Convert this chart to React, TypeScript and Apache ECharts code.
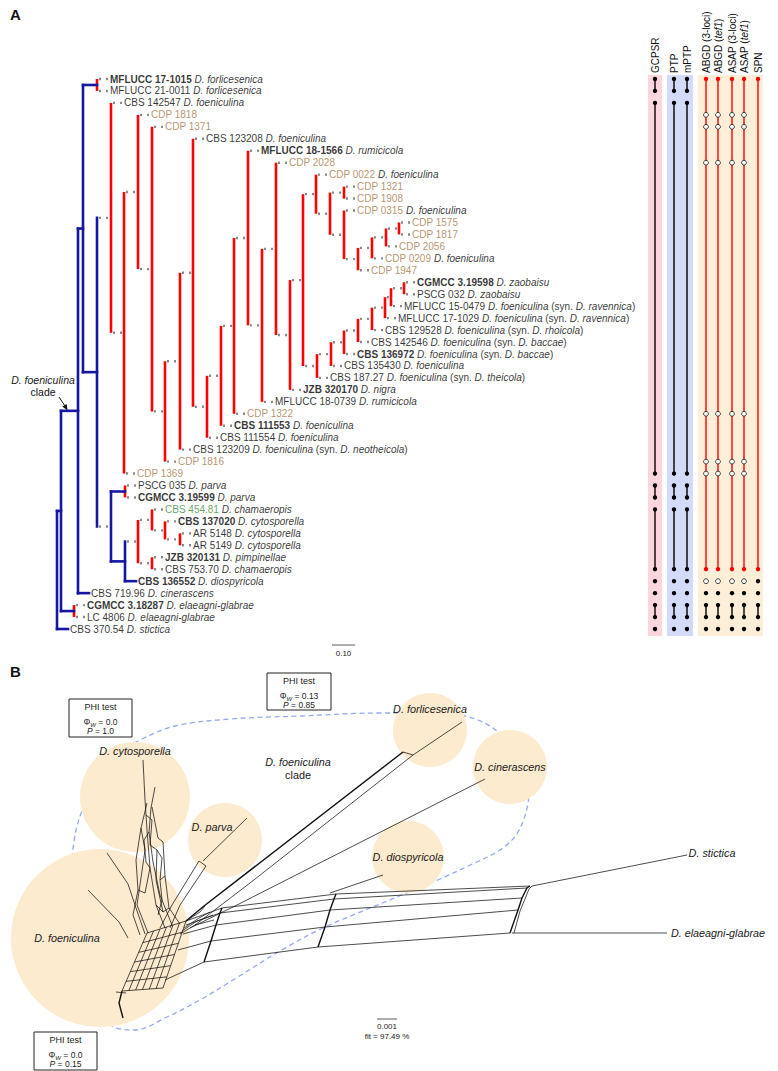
import React, { useEffect, useRef } from 'react';
import * as echarts from 'echarts';

const FONT = '"Liberation Sans", Arial, Helvetica, sans-serif';
const BLUE = '#1616a2';
const RED = '#ff0000';
const BROWN = '#a3784a';
const GREEN = '#3b8e3b';
const DOTGRAY = '#8a8a8a';
const PEACH = '#fdebcf';

// ---------- Panel A data ----------
const tipStrains = [
  'MFLUCC 17-1015', 'MFLUCC 21-0011', 'CBS 142547', 'CDP 1818', 'CDP 1371', 'CBS 123208',
  'MFLUCC 18-1566', 'CDP 2028', 'CDP 0022', 'CDP 1321', 'CDP 1908', 'CDP 0315', 'CDP 1575',
  'CDP 1817', 'CDP 2056', 'CDP 0209', 'CDP 1947', 'CGMCC 3.19598', 'PSCG 032', 'MFLUCC 15-0479',
  'MFLUCC 17-1029', 'CBS 129528', 'CBS 142546', 'CBS 136972', 'CBS 135430', 'CBS 187.27',
  'JZB 320170', 'MFLUCC 18-0739', 'CDP 1322', 'CBS 111553', 'CBS 111554', 'CBS 123209',
  'CDP 1816', 'CDP 1369', 'PSCG 035', 'CGMCC 3.19599', 'CBS 454.81', 'CBS 137020', 'AR 5148',
  'AR 5149', 'JZB 320131', 'CBS 753.70', 'CBS 136552', 'CBS 719.96', 'CGMCC 3.18287', 'LC 4806',
  'CBS 370.54',
];
const tipSpecies = [
  'D. forlicesenica', 'D. forlicesenica', 'D. foeniculina', '', '', 'D. foeniculina',
  'D. rumicicola', '', 'D. foeniculina', '', '', 'D. foeniculina', '',
  '', '', 'D. foeniculina', '', 'D. zaobaisu', 'D. zaobaisu', 'D. foeniculina',
  'D. foeniculina', 'D. foeniculina', 'D. foeniculina', 'D. foeniculina', 'D. foeniculina', 'D. foeniculina',
  'D. nigra', 'D. rumicicola', '', 'D. foeniculina', 'D. foeniculina', 'D. foeniculina',
  '', '', 'D. parva', 'D. parva', 'D. chamaeropis', 'D. cytosporella', 'D. cytosporella',
  'D. cytosporella', 'D. pimpinellae', 'D. chamaeropis', 'D. diospyricola', 'D. cinerascens', 'D. elaeagni-glabrae', 'D. elaeagni-glabrae',
  'D. stictica',
];
const tipSynonyms: Record<string, string> = {
  'MFLUCC 15-0479': 'D. ravennica',
  'MFLUCC 17-1029': 'D. ravennica',
  'CBS 129528': 'D. rhoicola',
  'CBS 142546': 'D. baccae',
  'CBS 136972': 'D. baccae',
  'CBS 187.27': 'D. theicola',
  'CBS 123209': 'D. neotheicola',
};
const boldStrains = [
  'MFLUCC 17-1015', 'MFLUCC 18-1566', 'CGMCC 3.19598', 'CBS 136972', 'JZB 320170', 'CBS 111553',
  'CGMCC 3.19599', 'CBS 137020', 'JZB 320131', 'CBS 136552', 'CGMCC 3.18287',
];
const brownStrains = tipStrains.filter((s) => s.startsWith('CDP'));
const greenStrains = ['CBS 454.81'];

// internal nodes: [id, depth (tree units), upper child, lower child]
const treeNodes: [string, number, string, string][] = [
  ['root', 0, 'Na', 't47'],
  ['Na', 4, 'Nc', 'Nel'],
  ['Nc', 21, 'Nd', 't44'],
  ['Nd', 26, 'Nforl', 'Ne'],
  ['Nforl', 40, 't1', 't2'],
  ['Ne', 40, 'R1', 'Nf'],
  ['R1', 54, 't3', 'N2'],
  ['N2', 67, 'N3', 't34'],
  ['N3', 81, 't4', 'N4'],
  ['N4', 95, 't5', 'N5'],
  ['N5', 108, 'N6', 't33'],
  ['N6', 123, 'N7', 't32'],
  ['N7', 136, 't6', 'N8'],
  ['N8', 150, 'N9', 't31'],
  ['N9', 164, 'N10', 't30'],
  ['N10', 177, 'N11', 't29'],
  ['N11', 191, 't7', 'N12'],
  ['N12', 205, 'N13', 't28'],
  ['N13', 219, 't8', 'N14'],
  ['N14', 233, 'N15', 't27'],
  ['N15', 246, 'N16', 'N17'],
  ['N16', 259, 't9', 'N18'],
  ['N18', 273, 'N19', 'N20'],
  ['N19', 287, 't10', 't11'],
  ['N20', 287, 't12', 'N21'],
  ['N21', 301, 'N22', 't17'],
  ['N22', 315, 'N23', 't16'],
  ['N23', 329, 'N24', 't15'],
  ['N24', 342, 't13', 't14'],
  ['N17', 260, 'N25', 't26'],
  ['N25', 274, 'N26', 't25'],
  ['N26', 287, 'N27', 't24'],
  ['N27', 301, 'N28', 't23'],
  ['N28', 315, 'N29', 't22'],
  ['N29', 328, 'N30', 't21'],
  ['N30', 334, 'N31', 't20'],
  ['N31', 347, 't18', 't19'],
  ['Nf', 54, 'Npar', 'Ng'],
  ['Npar', 68, 't35', 't36'],
  ['Ng', 68, 'Nh', 't43'],
  ['Nh', 81, 'C1', 'Npim'],
  ['C1', 95, 't37', 'C2'],
  ['C2', 108, 't38', 'C3'],
  ['C3', 123, 't39', 't40'],
  ['Npim', 95, 't41', 't42'],
  ['Nel', 17, 't45', 't46'],
];
const blueNodes = ['root', 'Na', 'Nc', 'Nd', 'Ne', 'Nf', 'Ng'];
const solidEdges = [
  'root>Na', 'root>t47', 'Na>Nc', 'Na>Nel', 'Nc>Nd', 'Nc>t44', 'Nd>Nforl', 'Nd>Ne',
  'Nf>Npar', 'Nf>Ng', 'Ng>t43',
];

// species delimitation columns
const methodNames = ['GCPSR', 'PTP', 'mPTP', 'ABGD (3-loci)', 'ABGD (tef1)', 'ASAP (3-loci)', 'ASAP (tef1)', 'SPN'];
const treeGroups: [number, number, string][] = [
  [1, 2, 'k'], [3, 34, 'k'], [35, 36, 'k'], [37, 42, 'k'], [43, 43, 'k'], [44, 44, 'k'], [45, 46, 'k'], [47, 47, 'k'],
];
const distanceGroups: [number, number, string][] = [
  [1, 42, 'r'], [44, 44, 'k'], [45, 46, 'k'], [47, 47, 'k'],
  [4, 4, 'o'], [5, 5, 'o'], [8, 8, 'o'], [29, 29, 'o'], [33, 33, 'o'], [34, 34, 'o'], [43, 43, 'o'],
];
const spnGroups: [number, number, string][] = [
  [1, 42, 'r'], [43, 43, 'k'], [44, 44, 'k'], [45, 46, 'k'], [47, 47, 'k'],
];
const methodGroups = [treeGroups, treeGroups, treeGroups, distanceGroups, distanceGroups, distanceGroups, distanceGroups, spnGroups];

// ---------- Panel B data (network drawing in page units) ----------
const speciesCircles: [string, number, number, number][] = [
  ['cytosporella', 135, 797, 55],
  ['parva', 225, 840, 37],
  ['foeniculina', 100, 938, 89],
  ['forlicesenica', 430, 730, 37],
  ['cinerascens', 510, 767, 37],
  ['diospyricola', 408, 857, 36],
];
const cladeOutline: [number, number][] = [
  [72, 858], [76, 830], [84, 806], [98, 778], [117, 754], [142, 739], [175, 726], [230, 719],
  [300, 716], [380, 713], [440, 713], [478, 720], [505, 738], [530, 770], [528, 803], [518, 832],
  [500, 850], [468, 866], [440, 879], [397, 897], [323, 928], [280, 951], [233, 980], [200, 1000],
  [167, 1017], [135, 1030], [112, 1026], [80, 1000], [60, 950], [62, 900], [72, 858],
];
const boldPaths: [number, number][][] = [
  [[186, 921], [204, 906], [403, 752]],
  [[222, 908], [220, 913], [216, 925], [211, 941], [204, 962]],
  [[336, 894], [334, 899], [330, 910], [325, 927], [318, 947]],
  [[530, 886], [527, 888], [522, 898], [518, 910], [510, 933]],
  [[122, 991], [119, 1003], [123, 1018]],
];
const thinPaths: [number, number][][] = [
  [[143, 760], [145, 800], [147, 830], [150, 868], [156, 905], [165, 928]],
  [[155, 787], [151, 808], [149, 832], [153, 862], [160, 895], [172, 925]],
  [[147, 803], [141, 828], [145, 850], [141, 878], [137, 905], [148, 933]],
  [[152, 807], [158, 838], [163, 842], [165, 876], [169, 908], [180, 924]],
  [[146, 815], [152, 820], [150, 845], [157, 850], [156, 880], [163, 912]],
  [[141, 828], [136, 860], [138, 890], [133, 915], [140, 935]],
  [[165, 876], [160, 880], [162, 900], [158, 915]],
  [[149, 832], [144, 840], [146, 862], [150, 868]],
  [[157, 850], [162, 858], [160, 880]],
  [[138, 890], [145, 893], [150, 868]],
  [[156, 905], [163, 912], [169, 908]],
  [[107, 853], [128, 884], [136, 908], [145, 934]],
  [[88, 890], [119, 922], [128, 938]],
  [[116, 992], [126, 993]],
  [[247, 818], [203, 861]],
  [[199, 861], [206, 866]],
  [[199, 861], [172, 905], [160, 928]],
  [[206, 866], [180, 905], [170, 928]],
  [[195, 925], [250, 883], [413, 755]],
  [[403, 752], [413, 755]],
  [[413, 755], [462, 722]],
  [[190, 928], [237, 905], [485, 779]],
  [[330, 893], [383, 875]],
  [[186, 921], [222, 908], [336, 894], [530, 886]],
  [[186, 925], [220, 913], [334, 899], [527, 888]],
  [[183, 934], [216, 925], [330, 910], [522, 898]],
  [[178, 950], [211, 941], [325, 927], [518, 910]],
  [[165, 980], [204, 962], [318, 947], [510, 933]],
  [[532, 886], [529, 889], [525, 899], [520, 911], [514, 933]],
  [[532, 886], [687, 855]],
  [[512, 933], [667, 933]],
  [[186, 921], [200, 912], [205, 906]],
  [[184, 928], [199, 918], [210, 912]],
  [[182, 931], [197, 921], [213, 915]],
  [[180, 934], [195, 925], [214, 920]],
];
const meshCorners: [number, number][] = [[147, 933], [186, 921], [163, 988], [122, 991]];
const meshDivisions = 6;

// ---------- layout helpers ----------
const ROOT_PX = 57;
const TOP_PX = 79;
const TIP_SPAN_PX = 550;
const columnPx = [655, 674, 687, 706, 718, 732, 744, 758];
const TIP_OFFSET = 13;

function buildTree() {
  const nodeMap = new Map<string, [string, number, string, string]>();
  treeNodes.forEach((n) => nodeMap.set(n[0], n));
  const parent = new Map<string, string>();
  treeNodes.forEach((n) => { parent.set(n[2], n[0]); parent.set(n[3], n[0]); });
  const yCache = new Map<string, number>();
  const yOf = (id: string): number => {
    if (yCache.has(id)) return yCache.get(id)!;
    let y: number;
    if (!nodeMap.has(id)) y = parseInt(id.slice(1), 10) - 1;
    else { const n = nodeMap.get(id)!; y = (yOf(n[2]) + yOf(n[3])) / 2; }
    yCache.set(id, y);
    return y;
  };
  const depthOf = (id: string): number => {
    if (nodeMap.has(id)) return nodeMap.get(id)![1];
    return nodeMap.get(parent.get(id)!)![1] + TIP_OFFSET;
  };
  const segs: number[][] = [];
  treeNodes.forEach(([id, d, k1, k2]) => {
    const blue = blueNodes.includes(id);
    segs.push([d, yOf(k1), d, yOf(k2), blue ? 1 : 0]);
  });
  treeNodes.forEach(([id, d, k1, k2]) => {
    [k1, k2].forEach((k) => {
      const kd = depthOf(k);
      const ky = yOf(k);
      const isTip = !nodeMap.has(k);
      if (solidEdges.includes(id + '>' + k)) segs.push([d, ky, isTip ? kd - 2 : kd, ky, 2]);
      else segs.push([d + 2, ky, kd - 2, ky, 3]);
    });
  });
  const tips = tipStrains.map((_, i) => [depthOf('t' + (i + 1)), i]);
  return { segs, tips };
}

function tipLabel(i: number): string {
  const s = tipStrains[i];
  const key = boldStrains.includes(s) ? 'sb' : brownStrains.includes(s) ? 'sbr' : greenStrains.includes(s) ? 'sg' : 's';
  let t = `{${key}|${s}}`;
  if (tipSpecies[i]) t += ` {i|${tipSpecies[i]}}`;
  if (tipSynonyms[s]) t += ` {s|(syn. }{i|${tipSynonyms[s]}}{s|)}`;
  return t;
}

function buildMesh(): [number, number][][] {
  const [tl, tr, br, bl] = meshCorners;
  const lerp = (a: [number, number], b: [number, number], t: number): [number, number] => [a[0] + (b[0] - a[0]) * t, a[1] + (b[1] - a[1]) * t];
  const out: [number, number][][] = [];
  for (let i = 0; i <= meshDivisions; i++) {
    const t = i / meshDivisions;
    out.push([lerp(tl, bl, t), lerp(tr, br, t)]);
    out.push([lerp(tl, tr, t), lerp(bl, br, t)]);
  }
  return out;
}

const segStyles = [
  { stroke: RED, lineWidth: 2.6 },
  { stroke: BLUE, lineWidth: 2.6, lineCap: 'square' },
  { stroke: BLUE, lineWidth: 2.6, lineCap: 'square' },
  { stroke: DOTGRAY, lineWidth: 2.4, lineDash: [2, 5] },
];

function phiBox(x: number, y: number, w: number, h: number, phi: string, p: string) {
  const cx = x + w / 2;
  return [
    { type: 'rect', shape: { x, y, width: w, height: h }, style: { fill: '#fff', stroke: '#222', lineWidth: 1 } },
    { type: 'text', x: cx, y: y + 8, style: { text: 'PHI test', fontSize: 9, fontFamily: FONT, fill: '#222', align: 'center', verticalAlign: 'middle' } },
    {
      type: 'text', x: cx, y: y + 23,
      style: {
        text: `{n|Φ}{sub|W}{n| = ${phi}}`, align: 'center', verticalAlign: 'middle', fill: '#222',
        rich: {
          n: { fontSize: 8.5, fontFamily: FONT, fill: '#222', lineHeight: 11, verticalAlign: 'middle' },
          sub: { fontSize: 6, fontFamily: FONT, fontStyle: 'italic', fill: '#222', lineHeight: 11, verticalAlign: 'bottom' },
        },
      },
    },
    {
      type: 'text', x: cx, y: y + 32,
      style: {
        text: `{pi|P}{n| = ${p}}`, align: 'center', verticalAlign: 'middle', fill: '#222',
        rich: {
          n: { fontSize: 8.5, fontFamily: FONT, fill: '#222' },
          pi: { fontSize: 8.5, fontFamily: FONT, fontStyle: 'italic', fill: '#222' },
        },
      },
    },
  ];
}

function italicText(text: string, x: number, y: number, size = 10.8, align = 'center') {
  return { type: 'text', x, y, z: 10, style: { text, fontSize: size, fontStyle: 'italic', fontFamily: FONT, fill: '#1a1a1a', align, verticalAlign: 'middle' } };
}

export default function App() {
  const ref = useRef<HTMLDivElement>(null);
  useEffect(() => {
    document.body.style.margin = '0';
    if (!ref.current) return;
    const chart = echarts.init(ref.current, undefined, { renderer: 'svg' });
    const { segs, tips } = buildTree();

    const colData: number[][] = [];
    methodGroups.forEach((groups, mi) => {
      groups.forEach(([a, b, k]) => {
        colData.push([columnPx[mi] - ROOT_PX, a - 1, b - 1, k === 'k' ? 0 : k === 'r' ? 1 : 2]);
      });
    });

    const netAll = [
      ...buildMesh().map((p) => ({ p, w: 0.75 })),
      ...thinPaths.map((p) => ({ p, w: 0.75 })),
      ...boldPaths.map((p) => ({ p, w: 1.4 })),
    ];

    const headerGraphics = methodNames.map((name, i) => {
      const m = name.match(/^(\w+) \((.+)\)$/);
      let text = `{n|${name}}`;
      if (m) text = m[2] === 'tef1' ? `{n|${m[1]} (}{i|tef1}{n|)}` : `{n|${m[1]} (${m[2]})}`;
      return {
        type: 'text', x: columnPx[i] + 0.5, y: 73, rotation: Math.PI / 2,
        style: {
          text, align: 'left', verticalAlign: 'middle',
          rich: {
            n: { fontSize: 10, fontFamily: FONT, fill: '#111' },
            i: { fontSize: 10, fontFamily: FONT, fontStyle: 'italic', fill: '#111' },
          },
        },
      };
    });

    const option: any = {
      animation: false,
      grid: [
        { left: ROOT_PX, top: TOP_PX, width: 778 - ROOT_PX, height: TIP_SPAN_PX },
        { left: 0, top: 0, width: 778, height: 1071 },
      ],
      xAxis: [
        { type: 'value', gridIndex: 0, min: 0, max: 778 - ROOT_PX, show: false },
        { type: 'value', gridIndex: 1, min: 0, max: 778, show: false },
      ],
      yAxis: [
        { type: 'value', gridIndex: 0, min: 0, max: tipStrains.length - 1, inverse: true, show: false },
        { type: 'value', gridIndex: 1, min: 0, max: 1071, inverse: true, show: false },
      ],
      graphic: [
        { type: 'rect', z: 0, shape: { x: 648, y: 75, width: 14, height: 561 }, style: { fill: '#fdd6dd' } },
        { type: 'rect', z: 0, shape: { x: 667, y: 75, width: 26, height: 561 }, style: { fill: '#d4dbf9' } },
        { type: 'rect', z: 0, shape: { x: 698, y: 75, width: 65, height: 561 }, style: { fill: '#fdefd7' } },
        ...headerGraphics,
        { type: 'text', x: 10, y: 14, style: { text: 'A', fontSize: 15, fontWeight: 'bold', fontFamily: FONT, fill: '#111', align: 'left', verticalAlign: 'middle' } },
        { type: 'text', x: 10, y: 671, style: { text: 'B', fontSize: 15, fontWeight: 'bold', fontFamily: FONT, fill: '#111', align: 'left', verticalAlign: 'middle' } },
        italicText('D. foeniculina', 43, 380, 10.5),
        { type: 'text', x: 43, y: 392, style: { text: 'clade', fontSize: 10.5, fontFamily: FONT, fill: '#111', align: 'center', verticalAlign: 'middle' } },
        { type: 'line', shape: { x1: 59, y1: 397, x2: 64.5, y2: 405.3 }, style: { stroke: '#111', lineWidth: 1 } },
        { type: 'polygon', shape: { points: [[67.5, 410.5], [62.3, 406.5], [66.7, 404.1]] }, style: { fill: '#111' } },
        { type: 'line', shape: { x1: 332, y1: 645, x2: 355, y2: 645 }, style: { stroke: '#333', lineWidth: 0.8 } },
        { type: 'text', x: 343.5, y: 653, style: { text: '0.10', fontSize: 8, fontFamily: FONT, fill: '#222', align: 'center', verticalAlign: 'middle' } },
        ...phiBox(69, 699, 63, 38, '0.0', '1.0'),
        ...phiBox(267, 673, 64, 37, '0.13', '0.85'),
        ...phiBox(34, 1032, 63, 38, '0.0', '0.15'),
        italicText('D. cytosporella', 135, 751),
        italicText('D. parva', 212, 827),
        italicText('D. foeniculina', 67, 938),
        italicText('D. forlicesenica', 430, 709),
        italicText('D. cinerascens', 510, 767),
        italicText('D. diospyricola', 408, 857),
        italicText('D. stictica', 712, 853),
        italicText('D. elaeagni-glabrae', 718, 933),
        italicText('D. foeniculina', 298, 762),
        { type: 'text', x: 298, y: 775, z: 10, style: { text: 'clade', fontSize: 10.8, fontFamily: FONT, fill: '#1a1a1a', align: 'center', verticalAlign: 'middle' } },
        { type: 'line', z: 10, shape: { x1: 377, y1: 1019, x2: 397, y2: 1019 }, style: { stroke: '#333', lineWidth: 0.8 } },
        { type: 'text', x: 387, y: 1026, z: 10, style: { text: '0.001', fontSize: 8, fontFamily: FONT, fill: '#222', align: 'center', verticalAlign: 'middle' } },
        { type: 'text', x: 387, y: 1036, z: 10, style: { text: 'fit = 97.49 %', fontSize: 8, fontFamily: FONT, fill: '#222', align: 'center', verticalAlign: 'middle' } },
      ],
      series: [
        {
          type: 'custom', name: 'tree', xAxisIndex: 0, yAxisIndex: 0, clip: false, silent: true, z: 3,
          data: segs, encode: { x: [0, 2], y: [1, 3] },
          renderItem: (_p: any, api: any) => {
            const a = api.coord([api.value(0), api.value(1)]);
            const b = api.coord([api.value(2), api.value(3)]);
            return { type: 'line', shape: { x1: a[0], y1: a[1], x2: b[0], y2: b[1] }, style: { ...segStyles[api.value(4)] } };
          },
        },
        {
          type: 'scatter', name: 'tips', xAxisIndex: 0, yAxisIndex: 0, symbolSize: 0, silent: true, z: 4,
          data: tips,
          label: {
            show: true, position: 'right', distance: 0, fontSize: 10, fontFamily: FONT, color: '#000',
            formatter: (p: any) => tipLabel(p.dataIndex),
            rich: {
              s: { fontSize: 10, fontFamily: FONT, color: '#000' },
              sb: { fontSize: 10, fontFamily: FONT, color: '#000', fontWeight: 'bold' },
              sbr: { fontSize: 10, fontFamily: FONT, color: BROWN },
              sg: { fontSize: 10, fontFamily: FONT, color: GREEN },
              i: { fontSize: 10, fontFamily: FONT, color: '#000', fontStyle: 'italic' },
            },
          },
        },
        {
          type: 'custom', name: 'delimitation', xAxisIndex: 0, yAxisIndex: 0, clip: false, silent: true, z: 3,
          data: colData, encode: { x: 0, y: [1, 2] },
          renderItem: (_p: any, api: any) => {
            const p1 = api.coord([api.value(0), api.value(1)]);
            const y2 = api.coord([api.value(0), api.value(2)])[1];
            const k = api.value(3);
            const color = k === 1 ? RED : '#000';
            const children: any[] = [];
            if (k === 2) {
              children.push({ type: 'circle', shape: { cx: p1[0], cy: p1[1], r: 2.4 }, style: { fill: '#fff', stroke: '#111', lineWidth: 0.8 } });
            } else {
              if (y2 !== p1[1]) children.push({ type: 'line', shape: { x1: p1[0], y1: p1[1], x2: p1[0], y2 }, style: { stroke: color, lineWidth: 1.4 } });
              children.push({ type: 'circle', shape: { cx: p1[0], cy: p1[1], r: 2.2 }, style: { fill: color } });
              if (y2 !== p1[1]) children.push({ type: 'circle', shape: { cx: p1[0], cy: y2, r: 2.2 }, style: { fill: color } });
            }
            return { type: 'group', children };
          },
        },
        {
          type: 'line', name: 'clade outline', xAxisIndex: 1, yAxisIndex: 1, data: cladeOutline, smooth: 0.35,
          showSymbol: false, silent: true, z: 1,
          lineStyle: { color: '#93a9f2', width: 1.3, type: [5, 3.5] },
        },
        {
          type: 'scatter', name: 'species', xAxisIndex: 1, yAxisIndex: 1, silent: true, z: 2,
          data: speciesCircles.map((c) => [c[1], c[2], c[3]]),
          symbolSize: (v: number[]) => v[2] * 2,
          itemStyle: { color: PEACH, opacity: 1 },
        },
        {
          type: 'custom', name: 'network', xAxisIndex: 1, yAxisIndex: 1, clip: false, silent: true, z: 5,
          data: netAll.map((n, i) => [n.p[0][0], n.p[0][1], i]), encode: { x: 0, y: 1 },
          renderItem: (params: any, api: any) => {
            const n = netAll[params.dataIndex];
            return {
              type: 'polyline',
              shape: { points: n.p.map((pt) => api.coord(pt)) },
              style: { stroke: '#111', lineWidth: n.w, fill: 'none' },
            };
          },
        },
      ],
    };
    chart.setOption(option);
    return () => chart.dispose();
  }, []);
  return <div ref={ref} style={{ width: 778, height: 1071 }} />;
}
